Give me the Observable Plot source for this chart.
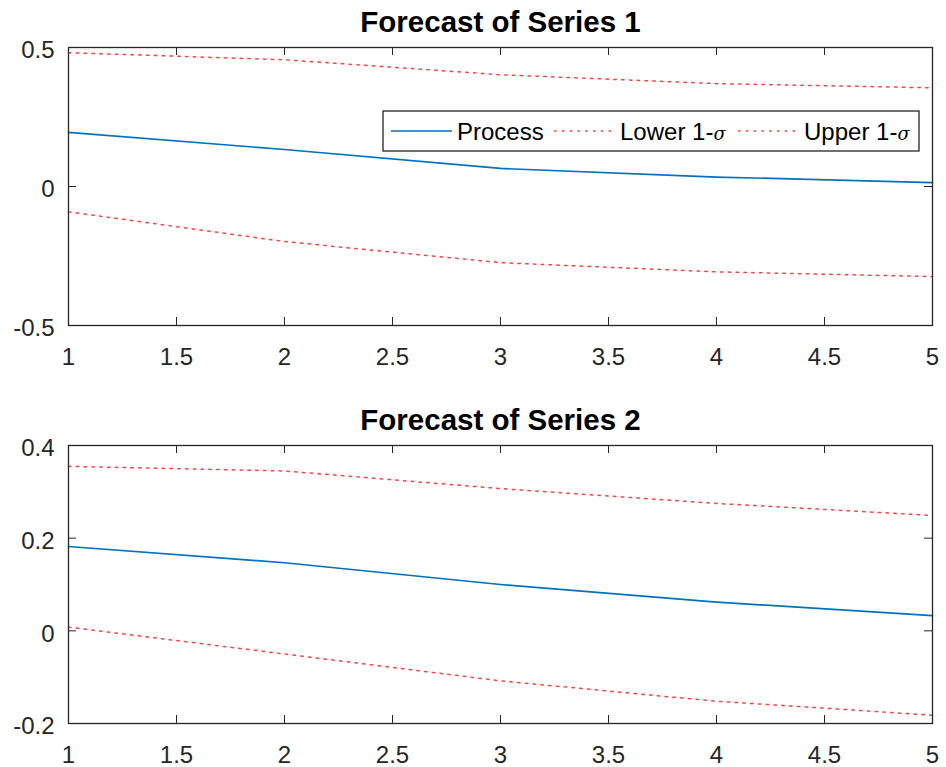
<!DOCTYPE html>
<html><head><meta charset="utf-8">
<script src="https://cdn.jsdelivr.net/npm/d3@7"></script>
<script src="https://cdn.jsdelivr.net/npm/@observablehq/plot@0.6"></script>
<style>
body{margin:0;background:#fff;}
#chart{width:946px;height:767px;position:relative;background:#fff;}
svg{display:block;}
</style></head><body><div id="chart"></div>
<script>
// ---- data ----
const steps = [1, 2, 3, 4, 5];
const s1Process = [0.195, 0.133, 0.065, 0.034, 0.014];
const s1Lower   = [-0.091, -0.198, -0.274, -0.307, -0.324];
const s1Upper   = [0.481, 0.456, 0.402, 0.370, 0.355];
const s2Process = [0.182, 0.147, 0.100, 0.062, 0.033];
const s2Lower   = [0.008, -0.050, -0.108, -0.152, -0.182];
const s2Upper   = [0.355, 0.345, 0.307, 0.275, 0.249];
const xTicks  = [1, 1.5, 2, 2.5, 3, 3.5, 4, 4.5, 5];
const y1Ticks = [-0.5, 0, 0.5];
const y2Ticks = [-0.2, 0, 0.2, 0.4];
const titles = ["Forecast of Series 1", "Forecast of Series 2"];
const legendNames = ["Process", "Lower 1-", "Upper 1-"];
const sigma = "σ";

// ---- styles ----
const FONT = "'Liberation Sans', Arial, Helvetica, sans-serif";
const INK = "#262626";
const BLUE = "#0072BD";
const RED = "#ff0000";
const DOTS = "2.5,5.3";

function panel({title, proc, lower, upper, yDomain, yTicks, height, marginBottom}) {
  const mt = 47, ml = 68, mr = 14;
  const innerH = height - mt - marginBottom;
  const innerW = 946 - ml - mr;
  const rows = vals => steps.map((x, i) => ({x, y: vals[i]}));
  return Plot.plot({
    width: 946, height, marginTop: mt, marginLeft: ml, marginRight: mr, marginBottom,
    style: {fontFamily: FONT, fontSize: "24px", color: INK, background: "white", overflow: "visible"},
    x: {domain: [1, 5], label: null},
    y: {domain: yDomain, label: null},
    marks: [
      Plot.line(rows(upper), {x: "x", y: "y", stroke: RED, strokeWidth: 1.5, strokeDasharray: DOTS, strokeOpacity: 0.75}),
      Plot.line(rows(lower), {x: "x", y: "y", stroke: RED, strokeWidth: 1.5, strokeDasharray: DOTS, strokeOpacity: 0.75}),
      Plot.line(rows(proc), {x: "x", y: "y", stroke: BLUE, strokeWidth: 1.7}),
      Plot.tickX(xTicks, {x: d => d, insetTop: innerH - 8, stroke: INK}),
      Plot.tickX(xTicks, {x: d => d, insetBottom: innerH - 8, stroke: INK}),
      Plot.tickY(yTicks, {y: d => d, insetLeft: innerW - 8, stroke: INK}),
      Plot.tickY(yTicks, {y: d => d, insetRight: innerW - 8, stroke: INK}),
      Plot.frame({stroke: INK, strokeWidth: 1.3}),
      Plot.axisX({ticks: xTicks, tickSize: 0, tickPadding: 22, tickFormat: d => String(d), fontSize: 24}),
      Plot.axisY({ticks: yTicks, tickSize: 0, tickPadding: 14, tickFormat: d => String(d), fontSize: 24, dy: 3}),
      Plot.text([title], {text: d => d, frameAnchor: "top", dy: -16, lineAnchor: "bottom", fontWeight: "bold", fontSize: 29.5, fill: "#000"})
    ]
  });
}

const chart = document.getElementById("chart");
const topPanel = panel({title: titles[0], proc: s1Process, lower: s1Lower, upper: s1Upper,
  yDomain: [-0.5, 0.5], yTicks: y1Ticks, height: 398, marginBottom: 73});
const bottomPanel = panel({title: titles[1], proc: s2Process, lower: s2Lower, upper: s2Upper,
  yDomain: [-0.2, 0.4], yTicks: y2Ticks, height: 369, marginBottom: 44});
chart.appendChild(topPanel);
chart.appendChild(bottomPanel);

// ---- legend (inside top panel) ----
const g = d3.select(topPanel).append("g").attr("font-family", FONT).attr("font-size", 24)
  .attr("fill", "#000").attr("text-anchor", "start");
g.append("rect").attr("x", 383).attr("y", 111).attr("width", 536).attr("height", 40)
  .attr("fill", "white").attr("stroke", INK).attr("stroke-width", 1.3);
const items = [
  {name: legendNames[0], x0: 391, x1: 452, tx: 457, stroke: BLUE, dash: null, sig: false},
  {name: legendNames[1], x0: 554, x1: 613, tx: 620, stroke: RED, dash: DOTS, sig: true},
  {name: legendNames[2], x0: 738, x1: 799, tx: 804, stroke: RED, dash: DOTS, sig: true}
];
const cy = 131;
items.forEach(it => {
  const l = g.append("line").attr("x1", it.x0).attr("x2", it.x1).attr("y1", cy).attr("y2", cy)
    .attr("stroke", it.stroke).attr("stroke-width", it.dash ? 1.5 : 1.7);
  if (it.dash) l.attr("stroke-dasharray", it.dash).attr("stroke-opacity", 0.75);
  const t = g.append("text").attr("x", it.tx).attr("y", cy + 8.5).attr("text-anchor", "start").text(it.name);
  if (it.sig) t.append("tspan").attr("font-style", "italic").attr("font-size", 18)
    .attr("font-family", "'DejaVu Serif', serif").text(sigma);
});
</script></body></html>
